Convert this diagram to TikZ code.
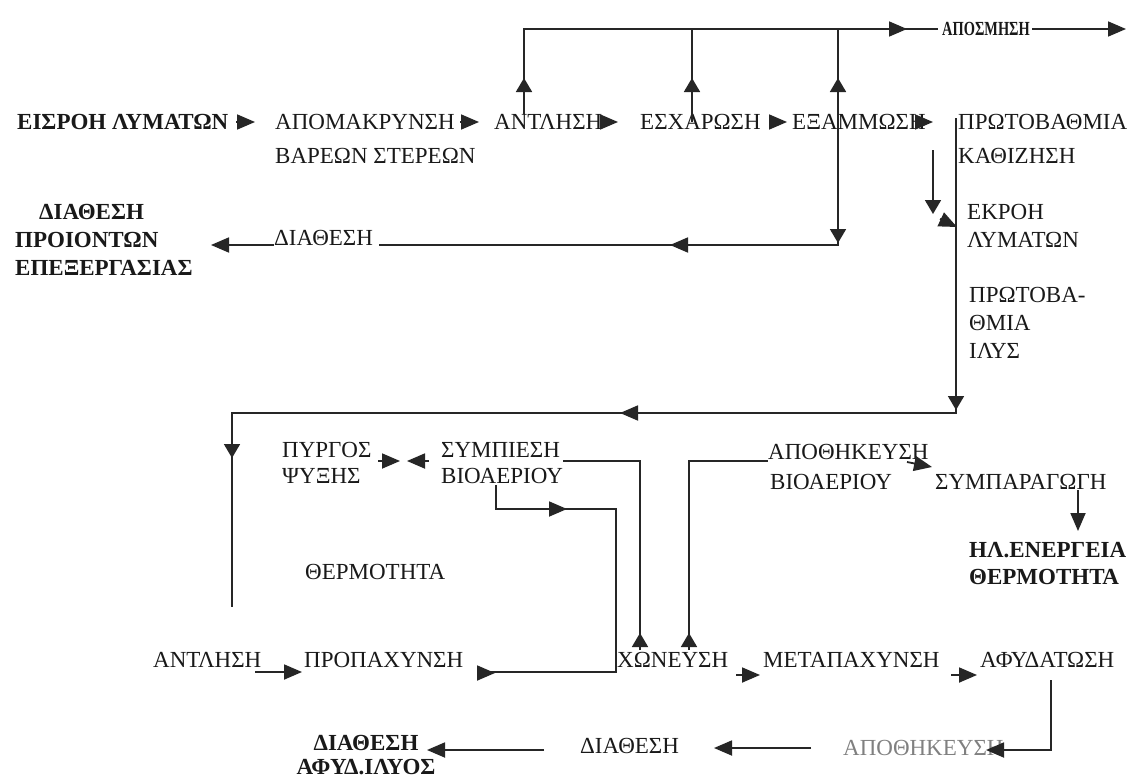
\documentclass[tikz,border=0pt]{standalone}
\usepackage{fontspec}
\setmainfont{Liberation Serif}
\usetikzlibrary{arrows.meta}
\tikzset{
  ln/.style={line width=1.8pt, draw=black!85},
  tri/.tip={Triangle[length=18pt,width=15pt]},
  trv/.tip={Triangle[length=14pt,width=16pt]},
  ah/.style={ln, -{tri}},
  av/.style={ln, -{trv}},
  lbl/.style={anchor=north west, inner sep=0pt, font=\fontsize{23}{28}\selectfont, align=left, text=black!90},
  blbl/.style={lbl, font=\fontsize{23}{28}\selectfont\bfseries},
}
\begin{document}
\begin{tikzpicture}[x=1pt,y=-1pt]
\useasboundingbox (0,0) rectangle (1133,782);
\fill[white] (0,0) rectangle (1133,782);

% ---------- labels ----------
\node[blbl] (nin) at (17,114) {ΕΙΣΡΟΗ ΛΥΜΑΤΩΝ};
\node[lbl] (napom) at (275,114) {ΑΠΟΜΑΚΡΥΝΣΗ\\[6pt]ΒΑΡΕΩΝ ΣΤΕΡΕΩΝ};
\node[lbl] (nant1) at (494,114) {ΑΝΤΛΗΣΗ};
\node[lbl] (nesx) at (640,114) {ΕΣΧΑΡΩΣΗ};
\node[lbl] (nexa) at (792,114) {ΕΞΑΜΜΩΣΗ};
\node[lbl] (nprot) at (958,114) {ΠΡΩΤΟΒΑΘΜΙΑ\\[6pt]ΚΑΘΙΖΗΣΗ};
\node[blbl, font=\fontsize{20}{24}\selectfont\bfseries] (naposm) at (942,22) {\scalebox{0.72}[1]{ΑΠΟΣΜΗΣΗ}};
\node[lbl] (ndia1) at (274,230) {ΔΙΑΘΕΣΗ};
\node[blbl] (ndiapro) at (15,204) {\hspace*{24pt}ΔΙΑΘΕΣΗ\\ΠΡΟΙΟΝΤΩΝ\\ΕΠΕΞΕΡΓΑΣΙΑΣ};
\node[lbl] (nekr) at (967,204) {ΕΚΡΟΗ\\ΛΥΜΑΤΩΝ};
\node[lbl] (nilys) at (969,287) {ΠΡΩΤΟΒΑ-\\ΘΜΙΑ\\ΙΛΥΣ};
\node[lbl] (npyrg) at (282,442) {ΠΥΡΓΟΣ\\[-2pt]ΨΥΞΗΣ};
\node[lbl] (nsymp) at (441,442) {ΣΥΜΠΙΕΣΗ\\[-2pt]ΒΙΟΑΕΡΙΟΥ};
\node[lbl] (napoth) at (768,444) {ΑΠΟΘΗΚΕΥΣΗ\\[2pt]\hspace*{2pt}ΒΙΟΑΕΡΙΟΥ};
\node[lbl] (nsympar) at (935,474) {ΣΥΜΠΑΡΑΓΩΓΗ};
\node[blbl] (nhl) at (969,542) {ΗΛ.ΕΝΕΡΓΕΙΑ\\[-1pt]ΘΕΡΜΟΤΗΤΑ};
\node[lbl] (ntherm) at (305,564) {ΘΕΡΜΟΤΗΤΑ};
\node[lbl] (nant2) at (153,652) {ΑΝΤΛΗΣΗ};
\node[lbl] (nprop) at (304,652) {ΠΡΟΠΑΧΥΝΣΗ};
\node[lbl] (nxon) at (617,652) {ΧΩΝΕΥΣΗ};
\node[lbl] (nmet) at (763,652) {ΜΕΤΑΠΑΧΥΝΣΗ};
\node[lbl] (nafy) at (980,652) {ΑΦΥΔΑΤΩΣΗ};
\node[lbl] (ndia2) at (580,738) {ΔΙΑΘΕΣΗ};
\node[lbl, text=black!50] (napo2) at (843,740) {ΑΠΟΘΗΚΕΥΣΗ};
\node[blbl, align=center, anchor=north] (ndiafy) at (366,735) {ΔΙΑΘΕΣΗ\\[-4pt]ΑΦΥΔ.ΙΛΥΟΣ};

% ---------- coordinates ----------
\coordinate (b1) at (524,29);
\coordinate (b2) at (692,29);
\coordinate (b3) at (838,29);
\coordinate (c1) at (838,245);
\coordinate (r1) at (956,118);
\coordinate (r2) at (956,413);
\coordinate (r3) at (232,413);
\coordinate (r4) at (232,607);

% ---------- top row ----------
\draw[ah] (236,122) -- (255,122);
\draw[ah] (460,122) -- (479,122);
\draw[ah] (600,122) -- (618,122);
\draw[ah] (769,122) -- (787,122);
\draw[ah] (915,122) -- (933,122);

% exhaust bus
\draw[ln] (nant1.north -| b1) -- (b1) -- ([xshift=-4pt]naposm.west |- b1);
\draw[ln] (nesx.center -| b2) -- (b2);
\draw[ln] (b3) -- (c1) -- ([xshift=6pt]ndia1.east |- c1);
\draw[ln] (ndia1.west |- c1) -- (229,245);
\draw[ah] (229,245) -- (211,245);
\draw[ah] (890,29) -- (907,29);
\draw[ln,-{tri}] ([xshift=2pt]naposm.east |- b1) -- (1126,29);
\draw[av] (524,92) -- (524,78);
\draw[av] (692,92) -- (692,78);
\draw[av] (838,92) -- (838,78);
\draw[av] (838,229) -- (838,243);
\draw[ah] (688,245) -- (670,245);

% primary sludge / effluent
\draw[ln] (r1) -- (r2) -- (r3) -- (r4);
\draw[av] (956,396) -- (956,410);
\draw[ah] (638,413) -- (620,413);
\draw[av] (232,444) -- (232,458);
\draw[ln] (933,150) -- (933,202);
\draw[av] (933,200) -- (933,214);
\draw[ah] (940,219) -- (957,227);

% biogas
\draw[ah] (378,461) -- (400,461);
\draw[ah] (429,461) -- (407,461);
\draw[ln] (640,650) -- (640,461) -- (nsymp.east |- 0,461);
\draw[av] (640,647) -- (640,633);
\draw[ln] (689,650) -- (689,461) -- (napoth.west |- 0,461);
\draw[av] (689,647) -- (689,633);
\draw[ln] (496,485) -- (496,509) -- (616,509) -- (616,672) -- (480,672);
\draw[ah] (549,509) -- (567,509);
\draw[ah] (478,673) -- (495,673);
\draw[ah] (907,462) -- (932,467);
\draw[ln,-{tri}] (1078,490) -- (1078,531);

% bottom row
\draw[ln,-{tri}] (255,672) -- (302,672);
\draw[ln,-{tri}] (736,675) -- (760,675);
\draw[ln,-{tri}] (951,675) -- (977,675);
\draw[ln,-{tri}] (1051,680) -- (1051,750) -- (986,750);
\draw[ln,-{tri}] (811,748) -- (714,748);
\draw[ln,-{tri}] (544,750) -- (427,750);
\end{tikzpicture}
\end{document}
